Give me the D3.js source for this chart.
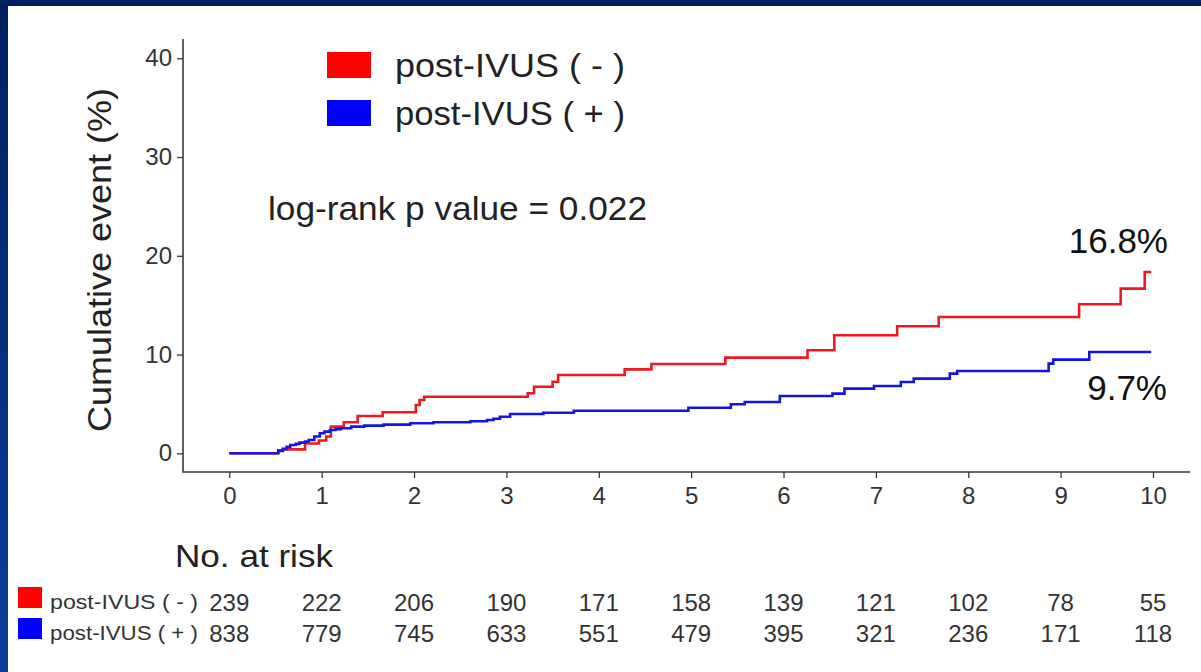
<!DOCTYPE html>
<html>
<head>
<meta charset="utf-8">
<script src="https://cdn.jsdelivr.net/npm/d3@7"></script>
<style>
  html, body { margin: 0; padding: 0; background: #ffffff; }
  svg { display: block; font-family: "Liberation Sans", Arial, sans-serif; }
</style>
</head>
<body>
<svg id="chart" width="1201" height="672"></svg>
<script>
// Kaplan-Meier cumulative event curves (years, %)
const groups = ["post-IVUS ( - )", "post-IVUS ( + )"];
const groupColors = ["#f01820", "#1414e6"];

const redTimes  = [0, 0.53, 0.58, 0.82, 0.97, 1.05, 1.10, 1.24, 1.39, 1.66, 2.02, 2.06, 2.11, 3.23, 3.30, 3.50, 3.56, 4.28, 4.57, 5.37, 6.26, 6.55, 7.23, 7.68, 9.20, 9.65, 9.91, 9.98];
const redValues = [0, 0.3, 0.4, 1.0, 1.3, 1.7, 2.7, 3.14, 3.78, 4.15, 4.89, 5.4, 5.73, 6.08, 6.74, 7.25, 7.93, 8.5, 9.04, 9.69, 10.43, 11.95, 12.86, 13.8, 15.09, 16.68, 18.36, 18.36];

const blueTimes  = [0, 0.53, 0.58, 0.62, 0.66, 0.72, 0.76, 0.82, 0.86, 0.92, 0.98, 1.03, 1.09, 1.15, 1.21, 1.32, 1.46, 1.67, 1.96, 2.21, 2.61, 2.79, 2.86, 2.93, 3.04, 3.40, 3.73, 4.97, 5.43, 5.58, 5.96, 6.53, 6.66, 6.98, 7.27, 7.41, 7.80, 7.88, 8.87, 8.92, 9.31, 9.98];
const blueValues = [0, 0.25, 0.45, 0.65, 0.84, 0.95, 1.08, 1.2, 1.35, 1.7, 2.03, 2.2, 2.36, 2.45, 2.53, 2.7, 2.8, 2.9, 3.04, 3.14, 3.24, 3.37, 3.5, 3.7, 3.98, 4.11, 4.31, 4.62, 4.96, 5.2, 5.8, 6.04, 6.55, 6.82, 7.22, 7.56, 8.07, 8.33, 9.08, 9.49, 10.26, 10.26];

const xTicks = [0, 1, 2, 3, 4, 5, 6, 7, 8, 9, 10];
const yTicks = [0, 10, 20, 30, 40];

// Numbers at risk at each yearly tick
const riskRed  = [239, 222, 206, 190, 171, 158, 139, 121, 102, 78, 55];
const riskBlue = [838, 779, 745, 633, 551, 479, 395, 321, 236, 171, 118];

const endLabels = ["16.8%", "9.7%"];
const pValueText = "log-rank p value = 0.022";

const svg = d3.select("#chart");
const W = 1201, H = 672;

// Slide frame: navy band on top and on the left edge
const defs = svg.append("defs");
const grad = defs.append("linearGradient").attr("id", "edge").attr("x1", 0).attr("y1", 0).attr("x2", 0).attr("y2", 1);
grad.append("stop").attr("offset", "0%").attr("stop-color", "#002060");
grad.append("stop").attr("offset", "100%").attr("stop-color", "#0b3d9c");
svg.append("rect").attr("x", 0).attr("y", 0).attr("width", W).attr("height", H).attr("fill", "url(#edge)");
svg.append("rect").attr("x", 0).attr("y", 0).attr("width", W).attr("height", 6).attr("fill", "#002060");
svg.append("rect").attr("x", 8).attr("y", 6).attr("width", W - 8).attr("height", H - 6).attr("fill", "#ffffff");

// Scales
const x = d3.scaleLinear().domain([0, 10]).range([229.3, 1153]);
const y = d3.scaleLinear().domain([0, 40]).range([453.3, 58.3]);

const axisLeftX = 183, axisBottomY = 472, axisTopY = 39, axisRightX = 1190;
const axisColor = "#3a3a3a";
const textColor = "#333333";

// Axis lines (L-shaped frame)
svg.append("path")
  .attr("d", `M${axisLeftX},${axisTopY}V${axisBottomY}H${axisRightX}`)
  .attr("fill", "none").attr("stroke", axisColor).attr("stroke-width", 1.6);

// Y axis
const gy = svg.append("g").attr("transform", `translate(${axisLeftX},0)`)
  .call(d3.axisLeft(y).tickValues(yTicks).tickSize(6).tickPadding(5));
gy.select(".domain").remove();
gy.selectAll(".tick line").attr("stroke", axisColor).attr("stroke-width", 1.3);
gy.selectAll(".tick text").attr("font-size", 24).attr("fill", textColor)
  .attr("font-family", "Liberation Sans, Arial, sans-serif");

// X axis
const gx = svg.append("g").attr("transform", `translate(0,${axisBottomY})`)
  .call(d3.axisBottom(x).tickValues(xTicks).tickSize(6).tickPadding(9));
gx.select(".domain").remove();
gx.selectAll(".tick line").attr("stroke", axisColor).attr("stroke-width", 1.3);
gx.selectAll(".tick text").attr("font-size", 24).attr("fill", textColor)
  .attr("font-family", "Liberation Sans, Arial, sans-serif");

// Y axis title
svg.append("text")
  .attr("transform", "translate(111,260) rotate(-90)")
  .attr("text-anchor", "middle")
  .attr("font-size", 34).attr("fill", "#222")
  .attr("textLength", 344).attr("lengthAdjust", "spacingAndGlyphs")
  .text("Cumulative event (%)");

// Step curves
const series = [
  { times: redTimes, values: redValues, color: groupColors[0] },
  { times: blueTimes, values: blueValues, color: groupColors[1] }
];
const line = d3.line().curve(d3.curveStepAfter).x(d => x(d[0])).y(d => y(d[1]));
svg.append("g").selectAll("path").data(series).join("path")
  .attr("d", s => line(s.times.map((t, i) => [t, s.values[i]])))
  .attr("fill", "none")
  .attr("stroke", s => s.color)
  .attr("stroke-width", 2.6)
  .attr("stroke-linejoin", "miter");

// Legend
const legend = svg.append("g");
groups.forEach((g, i) => {
  legend.append("rect").attr("x", 327).attr("y", 52 + i * 48).attr("width", 44).attr("height", 26)
    .attr("fill", i === 0 ? "#ff0000" : "#0000ff");
  legend.append("text").attr("x", 395).attr("y", 77 + i * 48)
    .attr("font-size", 33).attr("fill", "#222")
    .attr("textLength", 230).attr("lengthAdjust", "spacingAndGlyphs")
    .text(g);
});

// p value
svg.append("text").attr("x", 268).attr("y", 220)
  .attr("font-size", 33).attr("fill", "#222")
  .attr("textLength", 379).attr("lengthAdjust", "spacingAndGlyphs")
  .text(pValueText);

// End-of-follow-up annotations
svg.append("text").attr("x", 1168).attr("y", 253).attr("text-anchor", "end")
  .attr("font-size", 35).attr("fill", "#111").text(endLabels[0]);
svg.append("text").attr("x", 1167).attr("y", 400).attr("text-anchor", "end")
  .attr("font-size", 35).attr("fill", "#111").text(endLabels[1]);

// Number at risk table
svg.append("text").attr("x", 175).attr("y", 567)
  .attr("font-size", 32).attr("fill", "#222")
  .attr("textLength", 158).attr("lengthAdjust", "spacingAndGlyphs")
  .text("No. at risk");

const rows = [riskRed, riskBlue];
rows.forEach((vals, r) => {
  const baseY = 611 + r * 31;
  svg.append("rect").attr("x", 18).attr("y", baseY - 24).attr("width", 24).attr("height", 21)
    .attr("fill", r === 0 ? "#ff0000" : "#0000ff");
  svg.append("text").attr("x", 50).attr("y", baseY - 2)
    .attr("font-size", 20).attr("fill", textColor)
    .attr("textLength", 148).attr("lengthAdjust", "spacingAndGlyphs")
    .text(groups[r]);
  svg.append("g").selectAll("text").data(vals).join("text")
    .attr("x", (d, i) => x(xTicks[i]))
    .attr("y", baseY)
    .attr("text-anchor", "middle")
    .attr("font-size", 24).attr("fill", textColor)
    .text(d => d);
});
</script>
</body>
</html>
